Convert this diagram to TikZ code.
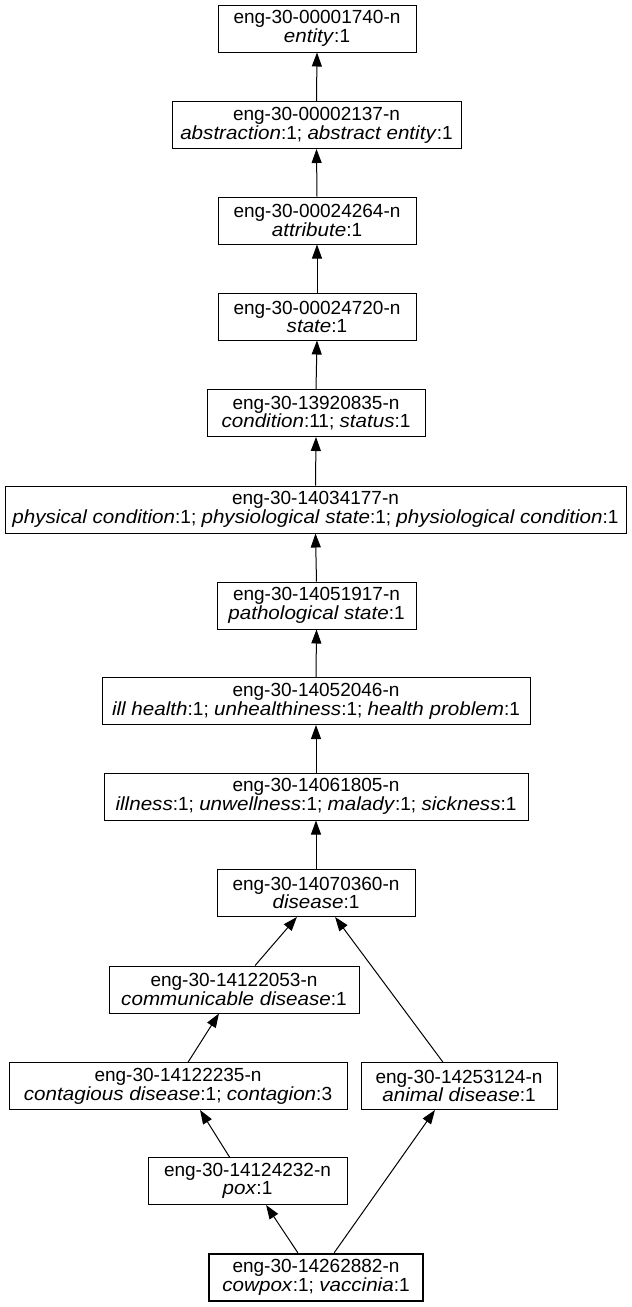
\documentclass[tikz,border=0pt]{standalone}
\usepackage{fontspec}
\setmainfont{Liberation Sans}[ItalicFeatures={FakeStretch=1.085}]
\usetikzlibrary{arrows.meta,calc}

\begin{document}
\begin{tikzpicture}[x=1pt,y=-1pt,
  synset/.style={draw=black, line width=1pt, rectangle, inner sep=0pt,
    minimum height=47pt, align=center,
    font=\fontsize{19}{16.5}\selectfont},
  focus/.style={synset, line width=2.6pt},
  hyper/.style={line width=1pt, -{Triangle[length=14pt,width=10pt]}},
]
\useasboundingbox (0,0) rectangle (632,1307);

% synset nodes, most general at the top
\node[synset, minimum width=198pt] (n1) at (317,28.5)
  {eng-30-00001740-n\\\textit{entity}:1};
\node[synset, minimum width=289pt] (n2) at (316.5,125)
  {eng-30-00002137-n\\\textit{abstraction}:1; \textit{abstract entity}:1};
\node[synset, minimum width=198pt] (n3) at (317,220.5)
  {eng-30-00024264-n\\\textit{attribute}:1};
\node[synset, minimum width=198pt] (n4) at (317,316.5)
  {eng-30-00024720-n\\\textit{state}:1};
\node[synset, minimum width=218pt] (n5) at (316,413)
  {eng-30-13920835-n\\\textit{condition}:11; \textit{status}:1};
\node[synset, minimum width=621pt] (n6) at (315.5,509.5)
  {eng-30-14034177-n\\\textit{physical condition}:1; \textit{physiological state}:1; \textit{physiological condition}:1};
\node[synset, minimum width=199pt] (n7) at (316.5,605.5)
  {eng-30-14051917-n\\\textit{pathological state}:1};
\node[synset, minimum width=428pt] (n8) at (316,701)
  {eng-30-14052046-n\\\textit{ill health}:1; \textit{unhealthiness}:1; \textit{health problem}:1};
\node[synset, minimum width=424pt] (n9) at (316,796.5)
  {eng-30-14061805-n\\\textit{illness}:1; \textit{unwellness}:1; \textit{malady}:1; \textit{sickness}:1};
\node[synset, minimum width=198pt] (n10) at (316,893)
  {eng-30-14070360-n\\\textit{disease}:1};
\node[synset, minimum width=250pt] (n11) at (234,989.5)
  {eng-30-14122053-n\\\textit{communicable disease}:1};
\node[synset, minimum width=338pt] (n12) at (178,1086)
  {eng-30-14122235-n\\\textit{contagious disease}:1; \textit{contagion}:3};
\node[synset, minimum width=196pt] (n13) at (459,1086)
  {eng-30-14253124-n\\\textit{animal disease}:1};
\node[synset, minimum width=199pt] (n14) at (247.5,1181)
  {eng-30-14124232-n\\\textit{pox}:1};
\node[focus, minimum width=214pt] (n15) at (316,1277.5)
  {eng-30-14262882-n\\\textit{cowpox}:1; \textit{vaccinia}:1};

% straight hypernym chain
\foreach \c/\p in {n2/n1, n3/n2, n4/n3, n5/n4, n6/n5, n7/n6, n8/n7, n9/n8, n10/n9}
  \draw[hyper] (\c.north) -- (\p.south);

% branching hypernym links
\draw[hyper] ($(n11.north west)!0.584!(n11.north east)$) -- ($(n10.south west)!0.404!(n10.south east)$);
\draw[hyper] ($(n13.north west)!0.418!(n13.north east)$) -- ($(n10.south west)!0.596!(n10.south east)$);
\draw[hyper] ($(n12.north west)!0.53!(n12.north east)$) -- ($(n11.south west)!0.44!(n11.south east)$);
\draw[hyper] ($(n14.north west)!0.41!(n14.north east)$) -- ($(n12.south west)!0.565!(n12.south east)$);
\draw[hyper] ($(n15.north west)!0.416!(n15.north east)$) -- ($(n14.south west)!0.593!(n14.south east)$);
\draw[hyper] ($(n15.north west)!0.584!(n15.north east)$) -- ($(n13.south west)!0.378!(n13.south east)$);
\end{tikzpicture}
\end{document}
